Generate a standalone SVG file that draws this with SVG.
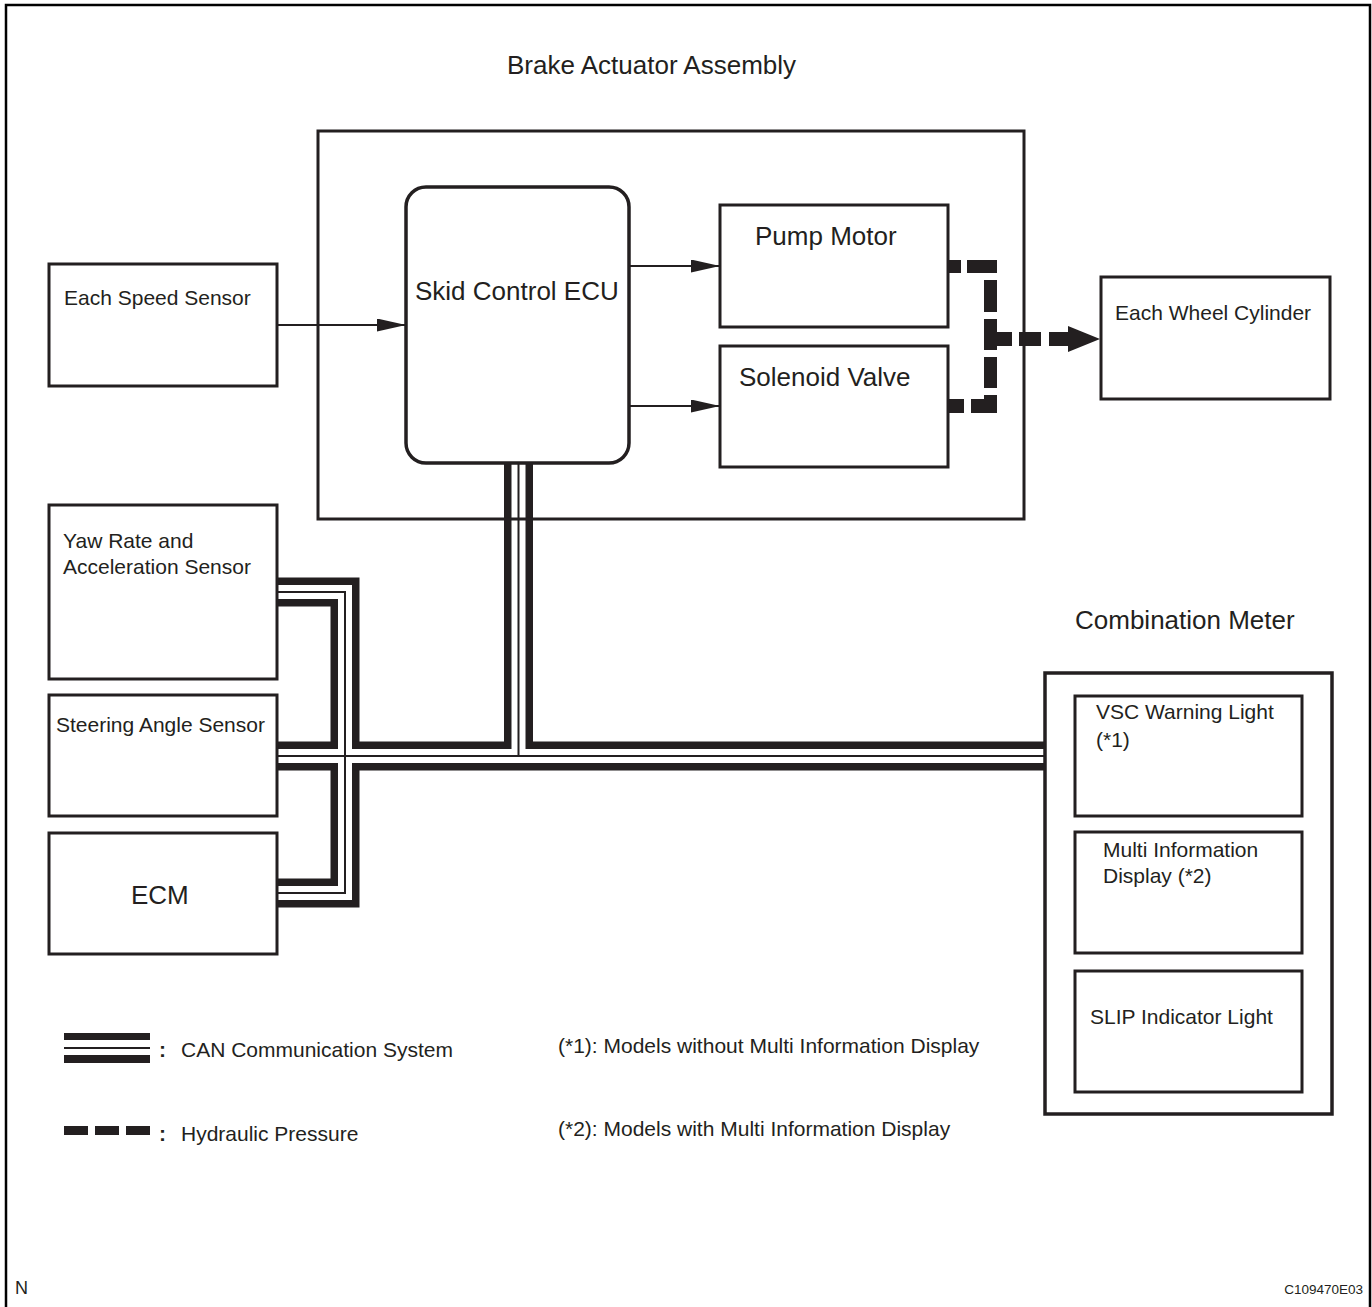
<svg xmlns="http://www.w3.org/2000/svg" width="1372" height="1307" viewBox="0 0 1372 1307">
<style>
  text { font-family: "Liberation Sans", Arial, sans-serif; fill: #231f20; }
  .big { font-size: 26px; }
  .med { font-size: 21px; }
  .box { fill: none; stroke: #231f20; stroke-width: 3; }
  .frame { fill: none; stroke: #000; stroke-width: 2.5; }
  .sig { fill: none; stroke: #231f20; stroke-width: 2; }
  .canO { fill: none; stroke: #231f20; stroke-width: 29; stroke-linejoin: miter; }
  .canW { fill: none; stroke: #fff; stroke-width: 14; stroke-linejoin: miter; }
  .canC { fill: none; stroke: #231f20; stroke-width: 2; }
  .hyd { fill: #231f20; }
</style>
<defs>
  <marker id="arr" markerWidth="29" markerHeight="13" refX="29" refY="6.5" orient="auto" markerUnits="userSpaceOnUse">
    <polygon points="0,0 29,6.5 0,13" fill="#231f20"/>
  </marker>
</defs>

<rect width="1372" height="1307" fill="#fff"/>
<path class="frame" d="M6,1307 V5 H1370 V1307"/>

<!-- CAN bus connectors -->
<g id="connectors">
  <g id="can-bus">
    <path class="canO" d="M276,592 H345 V893 H276"/>
    <path class="canO" d="M276,756 H1046"/>
    <path class="canO" d="M518.5,462 V756"/>
    <path class="canW" d="M276,592 H345 V893 H276"/>
    <path class="canW" d="M276,756 H1046"/>
    <path class="canW" d="M518.5,462 V756"/>
    <path class="canC" d="M276,592 H345 V893 H276"/>
    <path class="canC" d="M276,756 H1046"/>
    <path class="canC" d="M518.5,462 V756"/>
  </g>
  <g id="signal-arrows">
    <path class="sig" d="M277,325 H406" marker-end="url(#arr)"/>
    <path class="sig" d="M630,266 H720" marker-end="url(#arr)"/>
    <path class="sig" d="M630,406 H720" marker-end="url(#arr)"/>
  </g>
  <g id="hydraulic">
    <rect class="hyd" x="947" y="260" width="14" height="13"/>
    <rect class="hyd" x="967" y="260" width="30" height="13"/>
    <rect class="hyd" x="984" y="280" width="13" height="32"/>
    <rect class="hyd" x="984" y="319" width="13" height="31"/>
    <rect class="hyd" x="997" y="332" width="15" height="14"/>
    <rect class="hyd" x="984" y="357" width="13" height="31"/>
    <rect class="hyd" x="984" y="395" width="13" height="18"/>
    <rect class="hyd" x="971" y="399" width="26" height="14"/>
    <rect class="hyd" x="947" y="399" width="17" height="14"/>
    <rect class="hyd" x="1019" y="332" width="22" height="14"/>
    <polygon class="hyd" points="1049,332 1068,332 1068,326 1100,339 1068,352 1068,346 1049,346"/>
  </g>
</g>

<g id="brake-actuator-assembly">
  <rect class="box" x="318" y="131" width="706" height="388"/>
  <text class="big" x="507" y="74">Brake Actuator Assembly</text>
</g>

<g id="skid-control-ecu">
  <rect class="box" x="406" y="187" width="223" height="276" rx="20" ry="20" style="stroke-width:3.5"/>
  <text class="big" x="415" y="300">Skid Control ECU</text>
</g>

<g id="pump-motor">
  <rect class="box" x="720" y="205" width="228" height="122"/>
  <text class="big" x="755" y="245">Pump Motor</text>
</g>

<g id="solenoid-valve">
  <rect class="box" x="720" y="346" width="228" height="121"/>
  <text class="big" x="739" y="386">Solenoid Valve</text>
</g>

<g id="each-speed-sensor">
  <rect class="box" x="49" y="264" width="228" height="122"/>
  <text class="med" x="64" y="305">Each Speed Sensor</text>
</g>

<g id="each-wheel-cylinder">
  <rect class="box" x="1101" y="277" width="229" height="122"/>
  <text class="med" x="1115" y="320">Each Wheel Cylinder</text>
</g>

<g id="yaw-rate-sensor">
  <rect class="box" x="49" y="505" width="228" height="174"/>
  <text class="med" x="63" y="548">Yaw Rate and</text>
  <text class="med" x="63" y="574">Acceleration Sensor</text>
</g>

<g id="steering-angle-sensor">
  <rect class="box" x="49" y="695" width="228" height="121"/>
  <text class="med" x="56" y="732">Steering Angle Sensor</text>
</g>

<g id="ecm">
  <rect class="box" x="49" y="833" width="228" height="121"/>
  <text class="big" x="131" y="904">ECM</text>
</g>

<g id="combination-meter">
  <rect class="box" x="1045" y="673" width="287" height="441" style="stroke-width:3.5"/>
  <text class="big" x="1075" y="629">Combination Meter</text>
</g>

<g id="vsc-warning-light">
  <rect class="box" x="1075" y="696" width="227" height="120"/>
  <text class="med" x="1096" y="719">VSC Warning Light</text>
  <text class="med" x="1096" y="747">(*1)</text>
</g>

<g id="multi-information-display">
  <rect class="box" x="1075" y="832" width="227" height="121"/>
  <text class="med" x="1103" y="857">Multi Information</text>
  <text class="med" x="1103" y="883">Display (*2)</text>
</g>

<g id="slip-indicator-light">
  <rect class="box" x="1075" y="971" width="227" height="121"/>
  <text class="med" x="1090" y="1024">SLIP Indicator Light</text>
</g>

<g id="legend">
  <rect x="64" y="1033" width="86" height="7" fill="#231f20"/>
  <rect x="64" y="1047" width="86" height="2" fill="#231f20"/>
  <rect x="64" y="1055" width="86" height="8" fill="#231f20"/>
  <text class="med" x="159" y="1057" style="font-weight:bold">:</text>
  <text class="med" x="181" y="1057">CAN Communication System</text>
  <rect class="hyd" x="64" y="1126" width="24" height="9"/>
  <rect class="hyd" x="95" y="1126" width="24" height="9"/>
  <rect class="hyd" x="126" y="1126" width="24" height="9"/>
  <text class="med" x="159" y="1141" style="font-weight:bold">:</text>
  <text class="med" x="181" y="1141">Hydraulic Pressure</text>
  <text class="med" x="558" y="1053">(*1): Models without Multi Information Display</text>
  <text class="med" x="558" y="1136">(*2): Models with Multi Information Display</text>
</g>

<text x="15" y="1294" style="font-size:18px">N</text>
<text x="1363" y="1294" style="font-size:13.5px" text-anchor="end">C109470E03</text>
</svg>
